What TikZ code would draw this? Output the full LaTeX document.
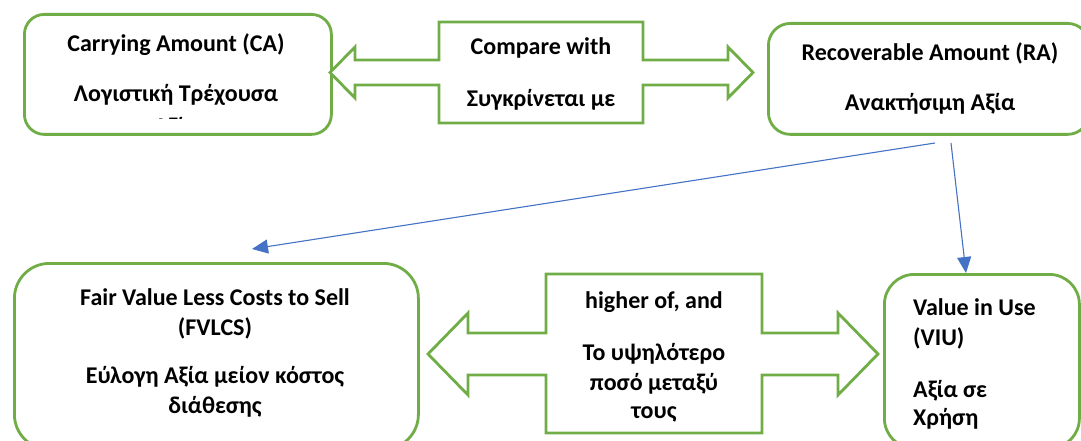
\documentclass[tikz,border=0pt]{standalone}
\usepackage{fontspec}
\setmainfont{Carlito}
\usetikzlibrary{arrows.meta}
\definecolor{ogreen}{RGB}{112,173,71}
\definecolor{oblue}{RGB}{68,114,196}
\begin{document}
\begin{tikzpicture}[x=1pt,y=-1pt,
  box/.style={draw=ogreen, line width=2.8pt, fill=white, inner sep=0pt, anchor=north west},
  callout/.style={draw=ogreen, line width=2.8pt, fill=white, line join=miter},
  txt/.style={font=\bfseries\fontsize{24}{29}\selectfont, anchor=base, inner sep=0pt},
  ltxt/.style={txt, anchor=base west},
  conn/.style={draw=oblue, line width=1.1pt, -{Triangle[length=16pt,width=14pt]}}]
\useasboundingbox (0,0) rectangle (1081,441);
\clip (0,0) rectangle (1081,441);
% boxes
\node[box, rounded corners=20pt, minimum width=307pt, minimum height=120pt] (ca) at (23,13) {};
\node[box, rounded corners=22pt, minimum width=321pt, minimum height=111pt] (ra) at (767,22) {};
\node[box, rounded corners=35pt, minimum width=404pt, minimum height=186pt] (fv) at (13,262) {};
\node[box, rounded corners=30pt, minimum width=195pt, minimum height=174pt] (viu) at (883,273) {};
% callouts
\draw[callout] (330,72.5) -- (355,47) -- (355,60) -- (439,60) -- (439,22) -- (643,22) -- (643,60) -- (728,60) -- (728,47) -- (753,72.5) -- (728,98) -- (728,85) -- (643,85) -- (643,123) -- (439,123) -- (439,85) -- (355,85) -- (355,98) -- cycle;
\draw[callout] (428,354) -- (468,313) -- (468,333) -- (546,333) -- (546,274) -- (762,274) -- (762,333) -- (838,333) -- (838,313) -- (878,354) -- (838,395) -- (838,375) -- (762,375) -- (762,433) -- (546,433) -- (546,375) -- (468,375) -- (468,395) -- cycle;
% texts
\node[txt] (ca1) at (176,52) {Carrying Amount (CA)};
\node[txt] (ca2) at (176,102) {Λογιστική Τρέχουσα};
\begin{scope}
\clip (30,20) rectangle (320,118.5);
\node[txt] (ca3) at (176,135) {Αξία};
\end{scope}
\node[txt] (cw1) at (541,55) {Compare with};
\node[txt] (cw2) at (541,107) {Συγκρίνεται με};
\node[txt] (ra1) at (930,61) {Recoverable Amount (RA)};
\node[txt] (ra2) at (930,111) {Ανακτήσιμη Αξία};
\node[txt] (fv1) at (215,305) {Fair Value Less Costs to Sell};
\node[txt] (fv2) at (215,335) {(FVLCS)};
\node[txt] (fv3) at (215,383) {Εύλογη Αξία μείον κόστος};
\node[txt] (fv4) at (215,413) {διάθεσης};
\node[txt] (hi1) at (654,308) {higher of, and};
\node[txt] (hi2) at (654,360) {Το υψηλότερο};
\node[txt] (hi3) at (654,390) {ποσό μεταξύ};
\node[txt] (hi4) at (654,418) {τους};
\node[ltxt] (vu1) at (913,315) {Value in Use};
\node[ltxt] (vu2) at (913,345) {(VIU)};
\node[ltxt] (vu3) at (913,397) {Αξία σε};
\node[ltxt] (vu4) at (913,425) {Χρήση};
% connectors
\coordinate (raL) at (935,143);
\coordinate (raR) at (951,143);
\coordinate (fvT) at (252,249);
\coordinate (viuT) at (966,273);
\draw[conn] (raL) -- (fvT);
\draw[conn] (raR) -- (viuT);
\end{tikzpicture}
\end{document}
